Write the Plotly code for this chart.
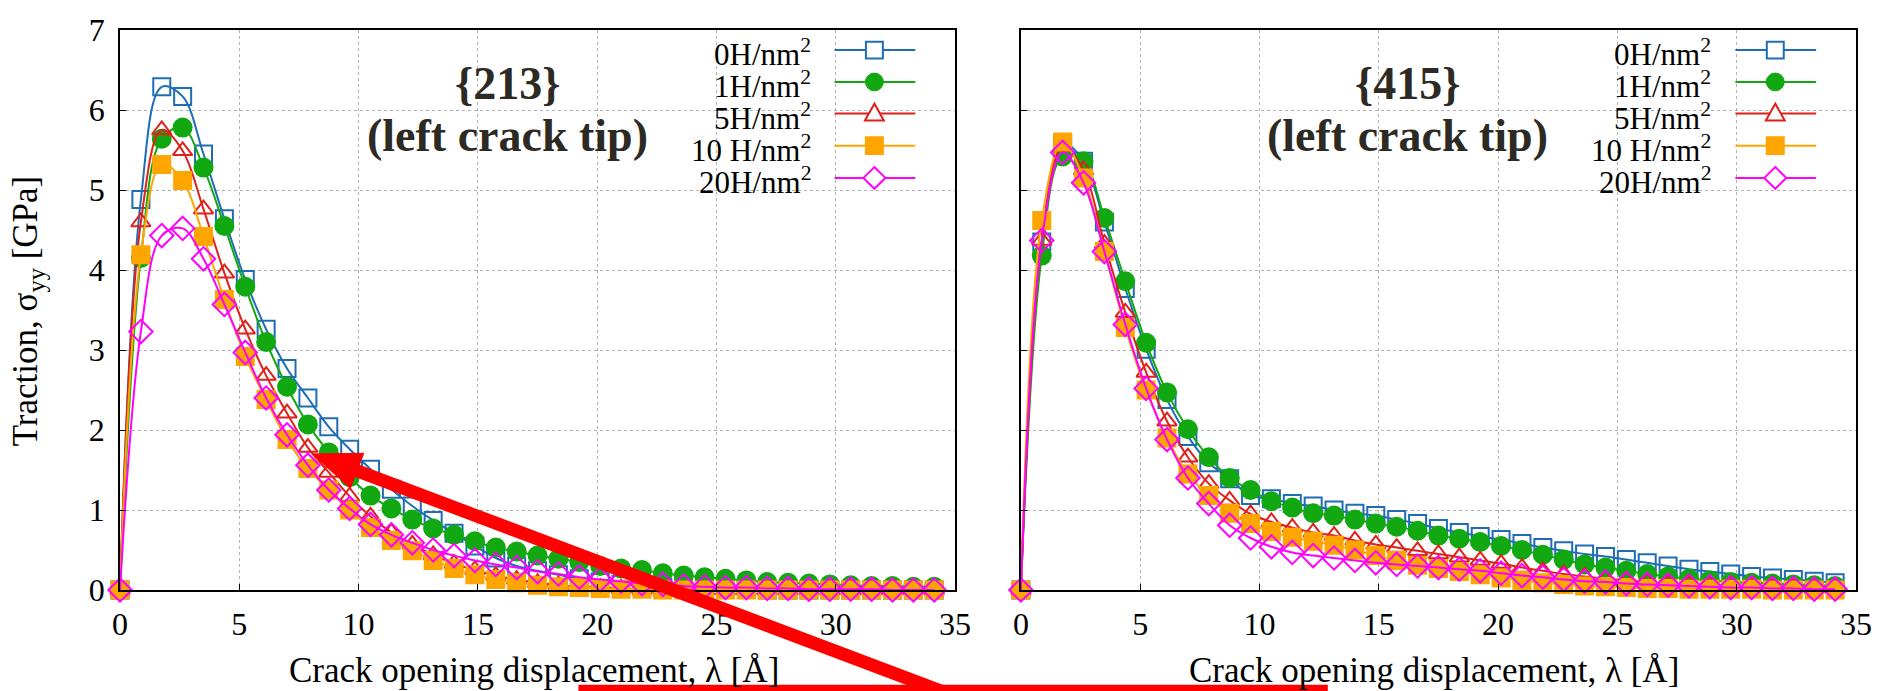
import plotly.graph_objects as go

# ---------------------------------------------------------------- data
# crack opening displacement, lambda [Angstrom]
lam = [0.0, 0.875, 1.75, 2.625, 3.5, 4.375, 5.25, 6.125, 7.0, 7.875,
       8.75, 9.625, 10.5, 11.375, 12.25, 13.125, 14.0, 14.875, 15.75, 16.625,
       17.5, 18.375, 19.25, 20.125, 21.0, 21.875, 22.75, 23.625, 24.5, 25.375,
       26.25, 27.125, 28.0, 28.875, 29.75, 30.625, 31.5, 32.375, 33.25, 34.125]

series_names = ["0H/nm", "1H/nm", "5H/nm", "10 H/nm", "20H/nm"]

# {213} plane, traction sigma_yy [GPa]
t213_h0 = [0, 4.88, 6.29, 6.17, 5.45, 4.64, 3.88, 3.26, 2.77, 2.40,
           2.04, 1.76, 1.51, 1.26, 1.05, 0.87, 0.71, 0.55, 0.40, 0.30,
           0.24, 0.19, 0.14, 0.10, 0.07, 0.05, 0.03, 0.02, 0.01, 0.01,
           0.01, 0, 0, 0, 0, 0, 0, 0, 0, 0]
t213_h1 = [0, 4.15, 5.64, 5.78, 5.28, 4.55, 3.79, 3.10, 2.54, 2.07,
           1.72, 1.41, 1.18, 1.02, 0.88, 0.77, 0.69, 0.61, 0.53, 0.48,
           0.43, 0.39, 0.35, 0.30, 0.27, 0.25, 0.21, 0.18, 0.16, 0.14,
           0.12, 0.10, 0.09, 0.08, 0.07, 0.06, 0.05, 0.05, 0.04, 0.04]
t213_h5 = [0, 4.60, 5.75, 5.49, 4.76, 3.96, 3.26, 2.68, 2.21, 1.78,
           1.47, 1.17, 0.92, 0.72, 0.57, 0.44, 0.33, 0.25, 0.18, 0.13,
           0.09, 0.06, 0.04, 0.03, 0.02, 0.01, 0.01, 0, 0, 0,
           0, 0, 0, 0, 0, 0, 0, 0, 0, 0]
t213_h10 = [0, 4.19, 5.32, 5.12, 4.42, 3.63, 2.92, 2.38, 1.88, 1.52,
            1.25, 1.00, 0.78, 0.62, 0.49, 0.37, 0.27, 0.19, 0.13, 0.09,
            0.06, 0.04, 0.03, 0.02, 0.01, 0.01, 0, 0, 0, 0,
            0, 0, 0, 0, 0, 0, 0, 0, 0, 0]
t213_h20 = [0, 3.23, 4.43, 4.52, 4.14, 3.57, 2.97, 2.40, 1.94, 1.56,
            1.25, 1.02, 0.82, 0.69, 0.59, 0.50, 0.43, 0.37, 0.32, 0.28,
            0.23, 0.20, 0.16, 0.13, 0.11, 0.08, 0.07, 0.05, 0.04, 0.03,
            0.03, 0.02, 0.02, 0.01, 0.01, 0.01, 0.01, 0, 0, 0]

# {415} plane, traction sigma_yy [GPa]
t415_h0 = [0, 4.35, 5.58, 5.36, 4.60, 3.77, 3.01, 2.38, 1.92, 1.59,
           1.39, 1.18, 1.14, 1.08, 1.05, 1.00, 0.96, 0.93, 0.88, 0.83,
           0.77, 0.72, 0.67, 0.63, 0.58, 0.53, 0.49, 0.45, 0.42, 0.38,
           0.34, 0.30, 0.26, 0.23, 0.20, 0.17, 0.15, 0.13, 0.11, 0.09]
t415_h1 = [0, 4.18, 5.42, 5.36, 4.65, 3.86, 3.09, 2.47, 2.01, 1.66,
           1.40, 1.25, 1.11, 1.03, 0.96, 0.93, 0.88, 0.83, 0.79, 0.74,
           0.68, 0.64, 0.60, 0.55, 0.50, 0.44, 0.38, 0.32, 0.28, 0.24,
           0.20, 0.17, 0.14, 0.12, 0.10, 0.09, 0.08, 0.07, 0.06, 0.05]
t415_h5 = [0, 4.37, 5.54, 5.25, 4.33, 3.47, 2.72, 2.11, 1.66, 1.33,
           1.12, 0.95, 0.85, 0.78, 0.72, 0.68, 0.62, 0.57, 0.53, 0.49,
           0.45, 0.41, 0.37, 0.33, 0.28, 0.24, 0.20, 0.17, 0.14, 0.12,
           0.10, 0.08, 0.07, 0.06, 0.05, 0.04, 0.03, 0.03, 0.02, 0.02]
t415_h10 = [0, 4.62, 5.60, 5.15, 4.23, 3.28, 2.50, 1.90, 1.45, 1.18,
            0.96, 0.83, 0.73, 0.66, 0.61, 0.56, 0.50, 0.43, 0.37, 0.31,
            0.27, 0.23, 0.19, 0.15, 0.12, 0.09, 0.07, 0.05, 0.04, 0.03,
            0.02, 0.02, 0.01, 0.01, 0.01, 0.01, 0, 0, 0, 0]
t415_h20 = [0, 4.37, 5.47, 5.09, 4.23, 3.32, 2.52, 1.88, 1.40, 1.08,
            0.81, 0.65, 0.54, 0.47, 0.43, 0.40, 0.37, 0.34, 0.32, 0.30,
            0.28, 0.26, 0.24, 0.21, 0.18, 0.16, 0.13, 0.11, 0.10, 0.08,
            0.07, 0.06, 0.05, 0.04, 0.03, 0.03, 0.02, 0.02, 0.01, 0.01]

x_ticks = [0, 5, 10, 15, 20, 25, 30, 35]
y_ticks = [0, 1, 2, 3, 4, 5, 6, 7]

# ---------------------------------------------------------------- style
FONT = "Liberation Serif"
TITLE_COLOR = "#2d2a24"
colors = ["#1f6db5", "#11a811", "#e0201b", "#ffa500", "#ff00ff"]
symbols = ["square-open", "circle", "triangle-up-open", "square", "diamond-open"]
msizes = [17, 18, 17, 17, 18]

W, H = 1884, 691
ML, MR, MT, MB = 120, 22, 22, 101
PW, PH = W - ML - MR, H - MT - MB


def fx(p):
    """pixel column -> paper x"""
    return (p - ML) / PW


def fy(p):
    """pixel row -> paper y"""
    return (H - MB - p) / PH


LEFT_FRAME = (120, 958)
RIGHT_FRAME = (1024, 1862)

fig = go.Figure()

panels = [
    ("x", "y", [t213_h0, t213_h1, t213_h5, t213_h10, t213_h20]),
    ("x2", "y2", [t415_h0, t415_h1, t415_h5, t415_h10, t415_h20]),
]
for xa, ya, data in panels:
    for k, vals in enumerate(data):
        fig.add_trace(go.Scatter(
            x=lam, y=vals, xaxis=xa, yaxis=ya,
            mode="lines+markers",
            name=series_names[k],
            line=dict(color=colors[k], width=2, shape="spline", smoothing=1.0),
            marker=dict(symbol=symbols[k], size=msizes[k], color=colors[k],
                        line=dict(color=colors[k], width=2)),
            cliponaxis=False, showlegend=False,
        ))

axis_common = dict(
    showline=True, linecolor="black", linewidth=1.5, mirror=True,
    ticks="inside", ticklen=6, tickcolor="black",
    showgrid=True, gridcolor="#b0b0b0", griddash="dot", gridwidth=1,
    zeroline=False, tickfont=dict(family=FONT, size=32, color="black"),
)
fig.update_layout(
    width=W, height=H,
    margin=dict(l=ML, r=MR, t=MT, b=MB, pad=0),
    plot_bgcolor="white", paper_bgcolor="white",
    xaxis=dict(domain=[0, fx(LEFT_FRAME[1])], range=[0, 35], tickvals=x_ticks,
               anchor="y", ticklabelstandoff=5, **axis_common),
    yaxis=dict(domain=[0, 1], range=[0, 7], tickvals=y_ticks, anchor="x",
               ticklabelstandoff=7, **axis_common),
    xaxis2=dict(domain=[fx(RIGHT_FRAME[0]), 1], range=[0, 35], tickvals=x_ticks,
                anchor="y2", ticklabelstandoff=5, **axis_common),
    yaxis2=dict(domain=[0, 1], range=[0, 7], tickvals=y_ticks, anchor="x2",
                showticklabels=False, **axis_common),
)

shapes = []
annotations = []

# axis titles
for x0, x1 in (LEFT_FRAME, RIGHT_FRAME):
    annotations.append(dict(
        x=fx((x0 + x1) / 2 - 4), y=fy(672), xref="paper", yref="paper",
        text="Crack opening displacement, λ [Å]", showarrow=False,
        font=dict(family=FONT, size=35, color="black"),
        xanchor="center", yanchor="middle"))
annotations.append(dict(
    x=fx(28), y=fy(307), xref="paper", yref="paper", textangle=-90,
    text="Traction, σ<sub>yy</sub> [GPa]", showarrow=False,
    font=dict(family=FONT, size=35, color="black"),
    xanchor="center", yanchor="middle"))

# panel titles
for cx, plane in ((509, "{213}"), (1412, "{415}")):
    annotations.append(dict(
        x=fx(cx), y=fy(76), xref="paper", yref="paper",
        text="<b>" + plane + "</b>", showarrow=False,
        font=dict(family=FONT, size=46, color=TITLE_COLOR),
        xanchor="center", yanchor="middle"))
    annotations.append(dict(
        x=fx(cx), y=fy(129), xref="paper", yref="paper",
        text="<b>(left crack tip)</b>", showarrow=False,
        font=dict(family=FONT, size=46, color=TITLE_COLOR),
        xanchor="center", yanchor="middle"))

# hand-built key: label on the left, line + symbol on the right
rows = [42.3, 74.7, 106.7, 139.3, 172.0]
for x0, x1 in (LEFT_FRAME, RIGHT_FRAME):
    shapes.append(dict(type="rect", xref="paper", yref="paper", layer="between",
                       x0=fx(x1 - 278), x1=fx(x1 - 20), y0=fy(27), y1=fy(188),
                       fillcolor="white", line=dict(width=0)))
    for k, ry in enumerate(rows):
        c = colors[k]
        annotations.append(dict(
            x=fx(x1 - 143), y=fy(ry + 3), xref="paper", yref="paper",
            text=series_names[k] + "<sup>2</sup>", showarrow=False,
            font=dict(family=FONT, size=31, color="black"),
            xanchor="right", yanchor="middle"))
        shapes.append(dict(type="line", xref="paper", yref="paper",
                           x0=fx(x1 - 121), x1=fx(x1 - 40), y0=fy(ry), y1=fy(ry),
                           line=dict(color=c, width=2)))
        mx = x1 - 81
        h = 8.5
        if k in (0, 3):
            shapes.append(dict(type="rect", xref="paper", yref="paper",
                               x0=fx(mx - h), x1=fx(mx + h), y0=fy(ry - h), y1=fy(ry + h),
                               fillcolor="white" if k == 0 else c,
                               line=dict(color=c, width=2)))
        elif k == 1:
            shapes.append(dict(type="circle", xref="paper", yref="paper",
                               x0=fx(mx - 9), x1=fx(mx + 9), y0=fy(ry - 9), y1=fy(ry + 9),
                               fillcolor=c, line=dict(color=c, width=1)))
        elif k == 2:
            p = "M {} {} L {} {} L {} {} Z".format(
                fx(mx), fy(ry - 10), fx(mx - 9.5), fy(ry + 7), fx(mx + 9.5), fy(ry + 7))
            shapes.append(dict(type="path", xref="paper", yref="paper", path=p,
                               fillcolor="white", line=dict(color=c, width=2)))
        else:
            p = "M {} {} L {} {} L {} {} L {} {} Z".format(
                fx(mx), fy(ry - 11), fx(mx + 11), fy(ry), fx(mx), fy(ry + 11), fx(mx - 11), fy(ry))
            shapes.append(dict(type="path", xref="paper", yref="paper", path=p,
                               fillcolor="white", line=dict(color=c, width=2)))

# red call-out arrow and the edge of the red box below the plots
tip = (313.0, 452.0)
ux, uy = 0.9344, 0.3562
nx, ny = -uy, ux
head_len, head_half = 48.0, 19.0
bx, by = tip[0] + head_len * ux, tip[1] + head_len * uy
tail = (tip[0] + 780 * ux, tip[1] + 780 * uy)
shapes.append(dict(type="line", xref="paper", yref="paper",
                   x0=fx(bx - 4 * ux), y0=fy(by - 4 * uy), x1=fx(tail[0]), y1=fy(tail[1]),
                   line=dict(color="#ff0000", width=13)))
head = "M {} {} L {} {} L {} {} Z".format(
    fx(tip[0]), fy(tip[1]),
    fx(bx + head_half * nx), fy(by + head_half * ny),
    fx(bx - head_half * nx), fy(by - head_half * ny))
shapes.append(dict(type="path", xref="paper", yref="paper", path=head,
                   fillcolor="#ff0000", line=dict(color="#ff0000", width=1)))
shapes.append(dict(type="rect", xref="paper", yref="paper",
                   x0=fx(580), x1=fx(1332), y0=fy(686), y1=fy(700),
                   fillcolor="#ff0000", line=dict(width=0)))

fig.update_layout(shapes=shapes, annotations=annotations)
fig.write_html("out.html")
